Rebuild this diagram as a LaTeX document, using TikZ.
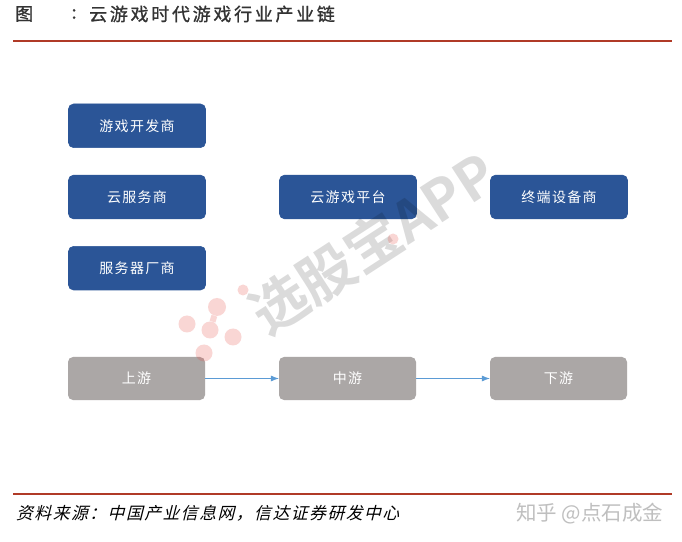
\documentclass[tikz,border=0pt]{standalone}
\usepackage{fontspec}
\setmainfont{Noto Sans CJK SC}
\newfontfamily\titlefont[LetterSpace=15,FakeBold=1]{Noto Sans CJK SC}
\newfontfamily\blockfont[LetterSpace=9]{Noto Sans CJK SC}
\newfontfamily\sourcefont[LetterSpace=9,FakeSlant=0.25]{Noto Sans CJK SC}
\newfontfamily\markfont{Noto Sans CJK SC Bold}
\usetikzlibrary{arrows.meta,positioning}
\definecolor{blockblue}{HTML}{2B5597}
\definecolor{stagegray}{HTML}{ABA7A6}
\definecolor{rulered}{HTML}{B03A27}
\definecolor{linkblue}{HTML}{5B9BD5}
\definecolor{dotred}{HTML}{E8473F}

\begin{document}
\begin{tikzpicture}[
		node distance=27pt,
		block/.style={draw=blockblue, semithick, fill=blockblue, rounded corners=5pt, text=white, font=\blockfont\fontsize{14}{14}\selectfont, minimum height=43.6pt, minimum width=137pt, inner sep=0pt},
		stage/.style={fill=stagegray, rounded corners=5pt, text=white, font=\blockfont\fontsize{14}{14}\selectfont, minimum height=43pt, minimum width=137pt, inner sep=0pt},
		rulebar/.style={rulered, line width=2pt},
		link/.style={linkblue, semithick, -{Latex[length=8pt,width=6pt]}},
		markdot/.style={circle, fill=dotred, opacity=0.22, inner sep=0pt, minimum size=#1},
		plain/.style={inner sep=0pt, anchor=west},
	]
		\useasboundingbox[fill=white] (0,0) rectangle (682pt,541pt);
		
		% header and footer
		\node [plain, font=\titlefont\fontsize{18}{18}\selectfont, text=black!80] (fig) at (15pt,527pt) {图};
		\node [plain, font=\titlefont\fontsize{18}{18}\selectfont, text=black!80, right=38pt of fig.east] (colon) {:};
		\node [plain, font=\titlefont\fontsize{18}{18}\selectfont, text=black!80] (title) at (89pt,527pt) {云游戏时代游戏行业产业链};
		\coordinate (top a) at (13pt,500pt);
		\coordinate (top b) at (672pt,500pt);
		\draw[rulebar] (top a) -- (top b);
		\coordinate (foot a) at (13pt,47pt);
		\coordinate (foot b) at (672pt,47pt);
		\draw[rulebar] (foot a) -- (foot b);
		\node [plain, font=\sourcefont\fontsize{16.8}{17}\selectfont] (source) at (16pt,28pt) {资料来源：中国产业信息网，信达证券研发中心};
		\node [plain, font=\fontsize{20.5}{20}\selectfont, text=black!25] (zhihu) at (516pt,27pt) {知乎 @点石成金};
		
		% blocks
		\node [block] (cloud) at (137pt,344pt) {云服务商};
		\node [block, above=of cloud] (dev) {游戏开发商};
		\node [block, below=of cloud] (server) {服务器厂商};
		\node [block, right=73.4pt of cloud] (platform) {云游戏平台};
		\node [block, right=73.4pt of platform] (terminal) {终端设备商};
		
		\node [stage] (up) at (136.5pt,162.5pt) {上游};
		\node [stage, right=73.6pt of up] (mid) {中游};
		\node [stage, right=73.6pt of mid] (down) {下游};
		
		\draw[link] (up) -- (mid);
		\draw[link] (mid) -- (down);
		
		% watermark
		\node [inner sep=0pt, rotate=33, text=black, opacity=0.14, font=\markfont\fontsize{56}{56}\selectfont] (mark) at (373pt,298pt) {选股宝APP};
		\node [markdot=17pt] (dot a) at (187pt,217pt) {};
		\node [markdot=18pt] (dot b) at (217pt,234pt) {};
		\node [markdot=17pt] (dot c) at (210pt,211pt) {};
		\node [markdot=17pt] (dot d) at (233pt,204pt) {};
		\node [markdot=17pt] (dot e) at (204pt,188pt) {};
		\node [markdot=11pt] (dot f) at (243pt,251pt) {};
		\node [markdot=11pt] (dot g) at (393pt,302pt) {};
		\draw[dotred, opacity=0.22, line width=6pt] (dot b) -- (dot c);
	\end{tikzpicture}
\end{document}
